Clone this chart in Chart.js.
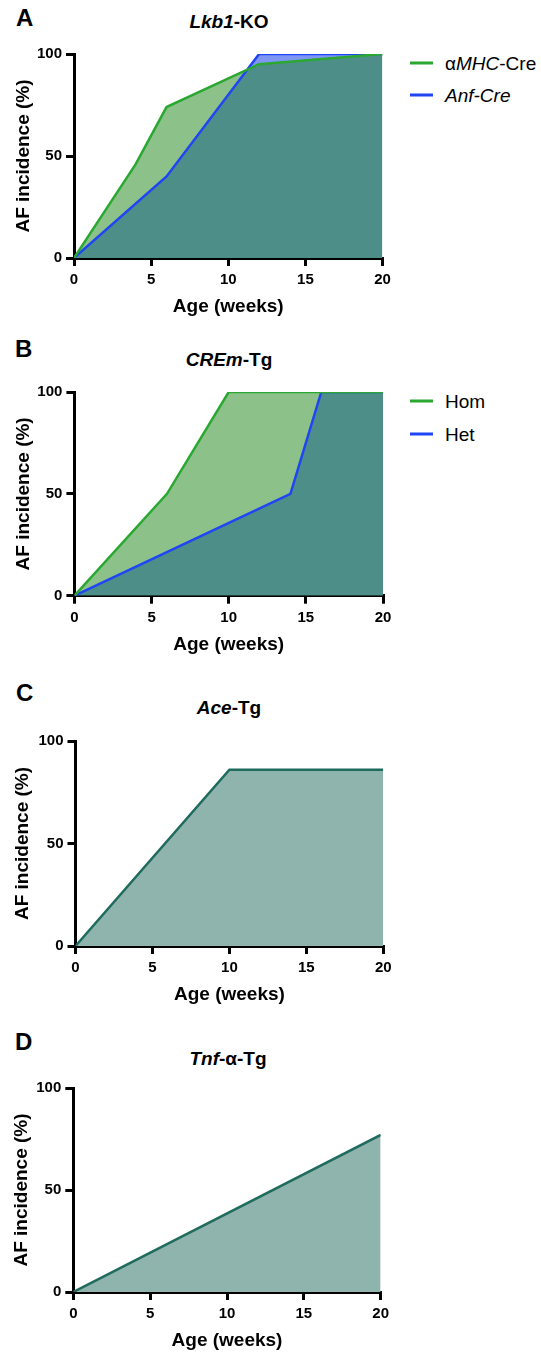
<!DOCTYPE html>
<html>
<head>
<meta charset="utf-8">
<script src="https://cdn.jsdelivr.net/npm/chart.js@4.4.1/dist/chart.umd.min.js"></script>
<style>
    body { margin: 0; background: #fff; }
    #page { position: relative; width: 541px; height: 1355px; overflow: hidden; font-family: "Liberation Sans", Arial, sans-serif; color: #000; }
    canvas { position: absolute; left: 0; }
    .letter { position: absolute; font-weight: bold; font-size: 24px; line-height: 1; transform: translateY(-50%); }
    .title { position: absolute; font-weight: bold; font-size: 19px; line-height: 1; white-space: nowrap; transform: translate(-50%, -50%); }
    .leg { position: absolute; left: 410px; font-size: 19px; line-height: 1; white-space: nowrap; transform: translateY(-50%); }
    .leg span.swatch { position: absolute; left: 0; top: 50%; width: 23px; height: 3px; margin-top: -1.5px; }
    .leg span.text { position: relative; left: 35px; }
</style>
</head>
<body>
<div id="page">
    <div class="letter" style="left:16px; top:18px;">A</div>
    <div class="title" style="left:229px; top:21px;"><i>Lkb1</i>-KO</div>
    <div class="leg" style="top:63px;"><span class="swatch" style="background:#2aa832"></span><span class="text">α<i>MHC</i>-Cre</span></div>
    <div class="leg" style="top:95px;"><span class="swatch" style="background:#1f45f5"></span><span class="text"><i>Anf-Cre</i></span></div>
    <canvas id="chartA"></canvas>

    <div class="letter" style="left:15px; top:349px;">B</div>
    <div class="title" style="left:229px; top:359px;"><i>CREm</i>-Tg</div>
    <div class="leg" style="top:401px;"><span class="swatch" style="background:#2aa832"></span><span class="text">Hom</span></div>
    <div class="leg" style="top:434px;"><span class="swatch" style="background:#1f45f5"></span><span class="text">Het</span></div>
    <canvas id="chartB"></canvas>

    <div class="letter" style="left:16px; top:693px;">C</div>
    <div class="title" style="left:229px; top:707px;"><i>Ace</i>-Tg</div>
    <canvas id="chartC"></canvas>

    <div class="letter" style="left:15px; top:1042px;">D</div>
    <div class="title" style="left:228px; top:1058px;"><i>Tnf</i>-α-Tg</div>
    <canvas id="chartD"></canvas>
</div>

<script>
// Values (age in weeks, AF incidence in %)
const xTicks = [0, 5, 10, 15, 20];
const yTicks = [0, 50, 100];

// A: Lkb1-KO
const mhcWeeks = [0, 4, 6, 12, 20];
const mhcCre = [0, 46, 74, 95, 100];
const anfWeeks = [0, 6, 12, 20];
const anfCre = [0, 40, 100, 100];

// B: CREm-Tg
const homWeeks = [0, 6, 10, 20];
const hom = [0, 50, 100, 100];
const hetWeeks = [0, 14, 16, 20];
const het = [0, 50, 100, 100];

// C: Ace-Tg
const aceWeeks = [0, 10, 20];
const ace = [0, 86, 86];

// D: Tnf-a-Tg
const tnfWeeks = [0, 20];
const tnf = [0, 77];

const green = '#2aa832';
const greenFill = '#8cc28a';
const blue = '#1f45f5';
const blueFill = '#7f97f2';
const teal = '#4e8e88';
const darkTeal = '#1f6b5e';
const lightTeal = '#8fb3ad';

const FONT = '"Liberation Sans", Arial, sans-serif';

function toPoints(xs, ys) {
    return xs.map((x, i) => ({ x: x, y: ys[i] }));
}

// box = where the plot area sits on the page
function makeChart(id, datasets, box) {
    const padTop = 15, padBottom = 6;
    const titleSize = 19;
    const titleHalf = titleSize * 1.2 / 2;
    const xAxisH = 49.2 + titleHalf;
    const plotH = box.bottom - box.top;
    const canvas = document.getElementById(id);
    canvas.style.top = (box.top - padTop) + 'px';
    canvas.width = 541;
    canvas.height = Math.ceil(padTop + plotH + xAxisH + padBottom);
    const padLeft = box.yTitleX - titleHalf;

    const axisCommon = {
        type: 'linear',
        border: { display: true, color: '#000', width: 3 },
        grid: { display: true, drawOnChartArea: false, drawTicks: true, tickLength: 8, color: '#000', lineWidth: 3 },
        ticks: { color: '#000', font: { family: FONT, size: 15, weight: 'bold' } },
        title: { display: true, color: '#000', padding: 0, font: { family: FONT, size: titleSize, weight: 'bold' } }
    };

    return new Chart(canvas, {
        type: 'line',
        data: { datasets: datasets },
        options: {
            responsive: false,
            animation: false,
            layout: { padding: { left: padLeft, top: padTop, right: 541 - box.right, bottom: canvas.height - padTop - plotH - xAxisH } },
            elements: { point: { radius: 0 }, line: { tension: 0, borderWidth: 2.5 } },
            plugins: {
                legend: { display: false },
                tooltip: { enabled: false },
                filler: { drawTime: 'beforeDatasetsDraw' }
            },
            scales: {
                x: {
                    ...axisCommon,
                    min: 0, max: 20,
                    afterBuildTicks: s => { s.ticks = xTicks.map(v => ({ value: v })); },
                    ticks: { ...axisCommon.ticks, padding: 5, maxRotation: 0 },
                    title: { ...axisCommon.title, text: 'Age (weeks)' },
                    afterFit: s => { s.height = xAxisH; s.paddingLeft = 0; s.paddingRight = 0; }
                },
                y: {
                    ...axisCommon,
                    min: 0, max: 100,
                    afterBuildTicks: s => { s.ticks = yTicks.map(v => ({ value: v })); },
                    ticks: { ...axisCommon.ticks, padding: 4 },
                    title: { ...axisCommon.title, text: 'AF incidence (%)' },
                    afterFit: s => { s.width = box.left - padLeft; s.paddingTop = 0; s.paddingBottom = 0; }
                }
            }
        }
    });
}

makeChart('chartA', [
    { label: 'αMHC-Cre', data: toPoints(mhcWeeks, mhcCre), borderColor: green,
      fill: { target: 1, above: greenFill, below: blueFill } },
    { label: 'Anf-Cre', data: toPoints(anfWeeks, anfCre), borderColor: blue,
      fill: 'origin', backgroundColor: teal }
], { left: 74, right: 382.5, top: 53.5, bottom: 257.5, yTitleX: 23.3 });

makeChart('chartB', [
    { label: 'Hom', data: toPoints(homWeeks, hom), borderColor: green,
      fill: { target: 1, above: greenFill, below: blueFill } },
    { label: 'Het', data: toPoints(hetWeeks, het), borderColor: blue,
      fill: 'origin', backgroundColor: teal }
], { left: 74.4, right: 383, top: 392, bottom: 595.7, yTitleX: 23.3 });

makeChart('chartC', [
    { label: 'Ace-Tg', data: toPoints(aceWeeks, ace), borderColor: darkTeal,
      fill: 'origin', backgroundColor: lightTeal }
], { left: 75.5, right: 383.3, top: 741, bottom: 946, yTitleX: 22.5 });

makeChart('chartD', [
    { label: 'Tnf-α-Tg', data: toPoints(tnfWeeks, tnf), borderColor: darkTeal,
      fill: 'origin', backgroundColor: lightTeal }
], { left: 73.3, right: 380.7, top: 1088.3, bottom: 1292.3, yTitleX: 21.7 });
</script>
</body>
</html>
